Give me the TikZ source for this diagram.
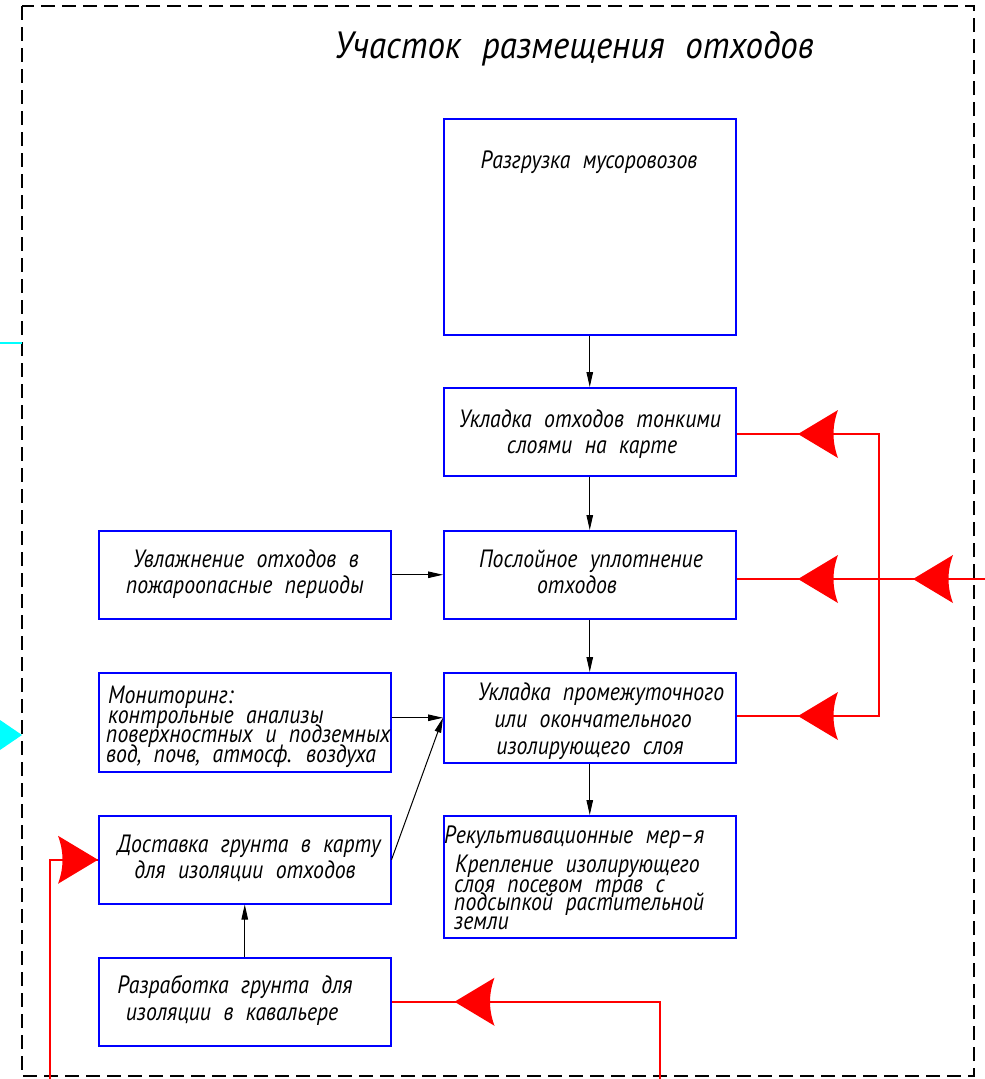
\documentclass[tikz,border=0pt]{standalone}
\usepackage{fontspec}
\newfontfamily\cadfont{PT Sans}[FakeStretch=0.87]
\newfontfamily\cadtfont{PT Sans}[FakeStretch=0.92]
\usetikzlibrary{arrows.meta,calc}
\definecolor{cadred}{RGB}{255,0,0}
\definecolor{cadblue}{RGB}{0,0,255}
\definecolor{cadcyan}{RGB}{0,255,255}
\newcommand\cadbody{\cadfont\itshape\fontsize{25}{26}\selectfont\spaceskip=0.5em\relax}
\newcommand\cadtitle{\cadtfont\itshape\fontsize{38}{40}\selectfont\spaceskip=0.55em\relax}
\begin{document}
\begin{tikzpicture}[x=1pt,y=-1pt,
  box/.style={draw=cadblue, line width=1.5pt, minimum width=292pt, minimum height=#1, inner sep=0pt, anchor=north west},
  txt/.style={font={\cadbody}, inner sep=0pt, anchor=base},
  ltxt/.style={txt, anchor=base west},
  ttl/.style={font={\cadtitle}, inner sep=0pt, anchor=base},
  arr/.style={draw=black, line width=1pt, -{Triangle[length=15pt,width=6.5pt]}},
  rl/.style={draw=cadred, line width=1.5pt},
  frame/.style={draw=black, line width=1.6pt, dash pattern=on 14pt off 7pt},
  rtip/.pic={\fill[cadred] (0,0) -- (40,-24) .. controls (34,-8) and (34,8) .. (40,24) -- cycle;}
]
\useasboundingbox (0,0) rectangle (985,1079);
\fill[white] (0,0) rectangle (985,1079);

% frame
\draw[frame] (22,6) rectangle (974,1076);

% title
\node[ttl] (title) at (574,58) {Участок размещения отходов};

% boxes
\node[box=216pt] (b1) at (443,118) {};
\node[box=88pt]  (b2) at (443,387) {};
\node[box=88pt]  (b3) at (443,530) {};
\node[box=90pt]  (b4) at (443,672) {};
\node[box=122pt] (b5) at (443,815) {};
\node[box=88pt]  (l1) at (98,530) {};
\node[box=99pt]  (l2) at (98,672) {};
\node[box=88pt]  (l3) at (98,815) {};
\node[box=88pt]  (l4) at (98,957) {};

% texts
\node[txt] (t1) at (589,168) {Разгрузка мусоровозов};
\node[txt] (t2a) at (590,427) {Укладка отходов тонкими};
\node[txt] (t2b) at (592,453) {слоями на карте};
\node[txt] (t3a) at (591,567) {Послойное уплотнение};
\node[txt] (t3b) at (577,593) {отходов};
\node[txt] (t4a) at (601,700) {Укладка промежуточного};
\node[txt] (t4b) at (593,727) {или окончательного};
\node[txt] (t4c) at (590,754) {изолирующего слоя};
\node[ltxt] (t5a) at (444,843) {Рекультивационные мер–я};
\node[ltxt] (t5b) at (455,872) {Крепление изолирующего};
\node[ltxt] (t5c) at (454,892) {слоя посевом трав с};
\node[ltxt] (t5d) at (454,910) {подсыпкой растительной};
\node[ltxt] (t5e) at (454,929) {земли};
\node[txt] (u1a) at (246,567) {Увлажнение отходов в};
\node[txt] (u1b) at (245,593) {пожароопасные периоды};
\node[ltxt] (u2a) at (108,703) {Мониторинг:};
\node[ltxt] (u2b) at (108,723) {контрольные анализы};
\node[ltxt] (u2c) at (106,742) {поверхностных и подземных};
\node[ltxt] (u2d) at (106,762) {вод, почв, атмосф. воздуха};
\node[txt] (u3a) at (249,852) {Доставка грунта в карту};
\node[txt] (u3b) at (245,878) {для изоляции отходов};
\node[txt] (u4a) at (235,993) {Разработка грунта для};
\node[txt] (u4b) at (232,1020) {изоляции в кавальере};

% black connectors
\draw[arr] (b1) -- (b2);
\draw[arr] (b2) -- (b3);
\draw[arr] (b3) -- (b4);
\draw[arr] (b4) -- (b5);
\draw[arr] (l1) -- (b3);
\draw[arr] (l2.east |- b4.west) -- (b4.west);
\draw[arr] (l3.east) -- (b4.west);
\draw[arr] (l4) -- (l3);

% red connectors
\coordinate (rin) at (985,579);
\coordinate (rv1) at (879,434);
\coordinate (rv2) at (879,716);
\coordinate (rb) at (660,1079);
\coordinate (rl0) at (50,1079);
\draw[rl] (rin) -- (b3.east |- rin);
\draw[rl] (b2.east |- rv1) -- (rv1) -- (rv2) -- (b4.east |- rv2);
\draw[rl] (rb) |- (l4.east);
\draw[rl] (rl0) |- (l3.west);
\pic at (798,434) {rtip};
\pic at (798,579) {rtip};
\pic at (798,716) {rtip};
\pic at (913,579) {rtip};
\pic at ($(l4.east)+(63,0)$) {rtip};
\pic[rotate=180] at (l3.west) {rtip};

% cyan marks
\coordinate (c1) at (0,343);
\coordinate (c2) at (22,343);
\draw[cadcyan, line width=1.5pt] (c1) -- (c2);
\fill[cadcyan] (0,720) -- (22,735) -- (0,750) -- cycle;
\end{tikzpicture}
\end{document}
